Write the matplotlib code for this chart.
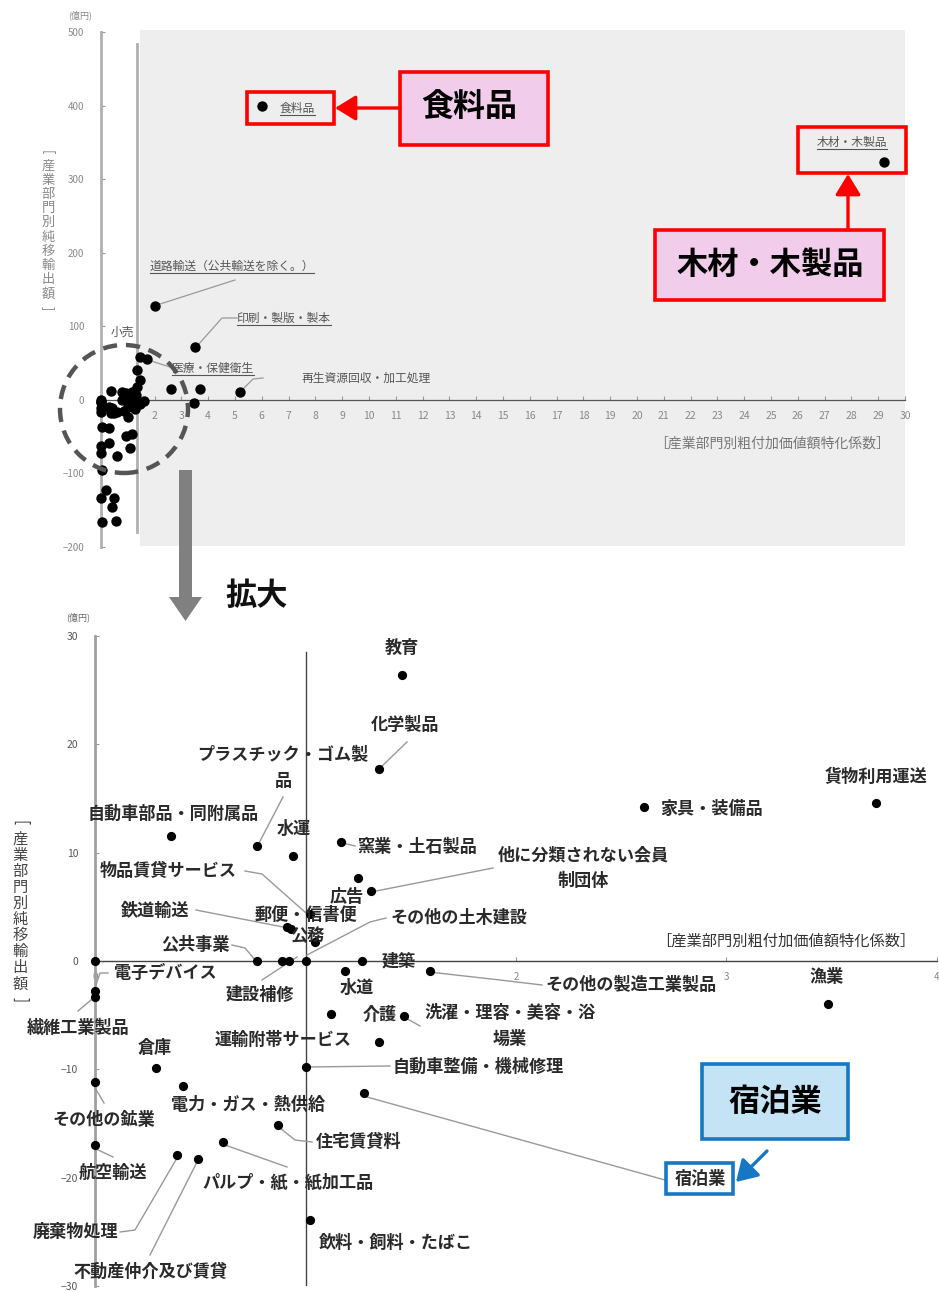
import matplotlib
matplotlib.use("Agg")
import matplotlib.pyplot as plt
from matplotlib.patches import Rectangle, Ellipse, Polygon, FancyArrowPatch
from matplotlib.lines import Line2D
import numpy as np

plt.rcParams['font.family'] = ['Noto Sans CJK JP', 'DejaVu Sans']

# ---------------- data ----------------
# zoomed (bottom) chart sectors
bottom_names = [
    "教育", "化学製品", "プラスチック・ゴム製品", "自動車部品・同附属品", "水運",
    "窯業・土石製品", "広告", "他に分類されない会員制団体", "物品賃貸サービス", "鉄道輸送",
    "郵便・信書便", "公務", "その他の土木建設", "公共事業", "建設補修",
    "", "", "建築", "水道", "その他の製造工業製品",
    "電子デバイス", "繊維工業製品", "介護", "洗濯・理容・美容・浴場業", "運輸附帯サービス",
    "自動車整備・機械修理", "倉庫", "電力・ガス・熱供給", "その他の鉱業", "宿泊業",
    "住宅賃貸料", "パルプ・紙・紙加工品", "航空輸送", "廃棄物処理", "不動産仲介及び賃貸",
    "飲料・飼料・たばこ", "家具・装備品", "貨物利用運送", "漁業",
]
bottom_x = [
    1.46, 1.35, 0.77, 0.36, 0.94,
    1.17, 1.25, 1.31, 1.02, 0.91,
    0.93, 1.045, 1.00, 0.77, 0.89,
    0.92, 0.00, 1.27, 1.19, 1.59,
    0.00, 0.00, 1.12, 1.47, 1.35,
    1.00, 0.29, 0.42, 0.00, 1.28,
    0.87, 0.61, 0.00, 0.39, 0.49,
    1.02, 2.61, 3.71, 3.48,
]
bottom_y = [
    26.4, 17.7, 10.6, 11.5, 9.7,
    11.0, 7.7, 6.5, 4.3, 3.1,
    3.0, 1.75, 0.0, 0.0, 0.0,
    0.0, 0.0, 0.0, -0.9, -0.9,
    -2.8, -3.3, -4.9, -5.1, -7.5,
    -9.8, -9.9, -11.5, -11.2, -12.2,
    -15.1, -16.7, -17.0, -17.9, -18.3,
    -23.9, 14.2, 14.6, -4.0,
]

# sectors only visible in the full-range (top) chart
top_extra_names = [
    "食料品", "木材・木製品", "道路輸送（公共輸送を除く。）", "印刷・製版・製本",
    "医療・保健衛生", "小売", "再生資源回収・加工処理", "",
    "", "", "", "", "", "", "", "", "", "", "", "", "", "", "", "",
]
top_extra_x = [
    6.0, 29.2, 2.0, 3.5,
    1.7, 1.45, 5.2, 1.35,
    0.05, 0.3, 0.95, 1.15, 0.3, 0.0, 0.0, 0.6, 1.1, 0.05, 0.2, 0.0, 0.5, 0.4, 0.05, 0.55,
]
top_extra_y = [
    400, 323, 128, 72,
    55, 58, 11, 41,
    -37, -38, -49, -46, -59, -63, -72, -76, -65, -95, -122, -133, -133, -145, -166, -165,
]

top_yticks = [-200, -100, 0, 100, 200, 300, 400, 500]
top_xticks = list(range(2, 31))
bottom_yticks = [-30, -20, -10, 0, 10, 20, 30]
bottom_xticks = [0, 1, 2, 3, 4]
bottom_xticklabels = ["0", "", "2", "3", "4"]

y_label_body = "産業部門別純移輸出額"
x_label = "［産業部門別粗付加価値額特化係数］"
unit_label = "(億円)"

# ---------------- figure ----------------
W, H = 939, 1292
fig = plt.figure(figsize=(W / 100, H / 100), dpi=100)
fig.patch.set_facecolor('white')


def F(px, py):
    return (px / W, 1 - py / H)


def D(ax, px, py):
    return tuple(ax.transData.inverted().transform((px, H - py)))


def vertical_label(cx, y_top, y_bot, size, color):
    n = len(y_label_body) + 2
    step = (y_bot - y_top) / (n - 1)
    fig.text(*F(cx, y_top), "[", fontsize=size, color=color, rotation=-90,
             ha='center', va='center', rotation_mode='anchor')
    for i, ch in enumerate(y_label_body):
        fig.text(*F(cx, y_top + step * (i + 1)), ch, fontsize=size, color=color,
                 ha='center', va='center')
    fig.text(*F(cx, y_bot), "]", fontsize=size, color=color, rotation=-90,
             ha='center', va='center', rotation_mode='anchor')


# ---------- top chart ----------
ax1 = fig.add_axes([101 / W, 1 - 547 / H, 804 / W, 515 / H])
ax1.set_xlim(0, 30)
ax1.set_ylim(-200, 500)
ax1.patch.set_alpha(0)
fig.add_artist(Rectangle(F(140, 546), 765 / W, 516 / H, transform=fig.transFigure,
                         facecolor='#eeeeee', edgecolor='none', zorder=-5))
for s in ['top', 'right']:
    ax1.spines[s].set_visible(False)
ax1.spines['left'].set_color('#b0b0b0')
ax1.spines['left'].set_linewidth(2)
ax1.spines['bottom'].set_position(('data', 0))
ax1.spines['bottom'].set_color('#555555')
ax1.spines['bottom'].set_linewidth(0.9)
ax1.set_yticks(top_yticks)
ax1.set_xticks(top_xticks)
ax1.tick_params(axis='y', direction='in', length=3, color='#999999', labelsize=7,
                labelcolor='#888888', pad=12)
ax1.tick_params(axis='x', direction='in', length=3, color='#999999', labelsize=7.5,
                labelcolor='#888888', pad=8)

top_all_x = list(bottom_x) + top_extra_x
top_all_y = list(bottom_y) + top_extra_y
ax1.scatter(top_all_x, top_all_y, s=56, color='black', zorder=5, clip_on=False, linewidths=0)

# secondary vertical line
p0 = D(ax1, 137, 44)
p1 = D(ax1, 137, 532)
ax1.plot([p0[0], p1[0]], [p0[1], p1[1]], color='#b0b0b0', lw=2, zorder=1)

top_labels = [
    ("食料品", 280, 108, 'left', True, None),
    ("木材・木製品", 852, 142, 'center', True, None),
    ("道路輸送（公共輸送を除く。）", 232, 266, 'center', True, [(157, 305), (235, 280)]),
    ("印刷・製版・製本", 237, 318, 'left', True, [(198, 345), (222, 318), (237, 318)]),
    ("医療・保健衛生", 172, 368, 'left', True, [(148, 360), (170, 367)]),
    ("再生資源回収・加工処理", 302, 378, 'left', False, [(243, 389), (253, 379), (263, 378)]),
    ("小売", 122, 332, 'center', False, None),
]
underline_texts = []
for name, px, py, ha, ul, lead in top_labels:
    x, y = D(ax1, px, py)
    t = ax1.text(x, y, name, ha=ha, va='center', fontsize=8.5, color='#555555', zorder=6)
    if ul:
        underline_texts.append(t)
    if lead:
        pts = [D(ax1, a, b) for a, b in lead]
        ax1.plot([p[0] for p in pts], [p[1] for p in pts], color='#999999', lw=0.9, zorder=3)

fig.text(*F(80, 15), unit_label, fontsize=6.5, color='#888888', ha='center', va='center')
vertical_label(48, 152, 308, 9.5, '#888888')
fig.text(*F(772, 444), x_label, fontsize=10, color='#777777', ha='center', va='center')

# ---------- bottom chart ----------
ax2 = fig.add_axes([95 / W, 1 - 1286 / H, 842 / W, 650 / H])
ax2.set_xlim(0, 4)
ax2.set_ylim(-30, 30)
ax2.patch.set_alpha(0)
for s in ['top', 'right']:
    ax2.spines[s].set_visible(False)
ax2.spines['left'].set_color('#a0a0a0')
ax2.spines['left'].set_linewidth(2)
ax2.spines['bottom'].set_position(('data', 0))
ax2.spines['bottom'].set_color('#444444')
ax2.spines['bottom'].set_linewidth(1)
ax2.set_yticks(bottom_yticks)
ax2.set_xticks(bottom_xticks)
ax2.set_xticklabels(bottom_xticklabels)
ax2.tick_params(axis='y', direction='in', length=3, color='#999999', labelsize=7.5,
                labelcolor='#555555', pad=12)
ax2.tick_params(axis='x', direction='in', length=3, color='#999999', labelsize=7,
                labelcolor='#888888', pad=8)
ax2.axvline(1, ymin=0, ymax=(28.5 + 30) / 60, color='#444444', lw=1, zorder=2)
ax2.scatter(bottom_x, bottom_y, s=44, color='black', zorder=5, clip_on=False, linewidths=0)

bottom_labels = [
    ("教育", 402, 648, 'center', None),
    ("化学製品", 405, 725, 'center', [(380, 768), (407, 742)]),
    ("プラスチック・ゴム製\n品", 283, 768, 'center', [(258, 845), (283, 797)]),
    ("自動車部品・同附属品", 173, 814, 'center', None),
    ("水運", 294, 829, 'center', None),
    ("窯業・土石製品", 357, 847, 'left', [(343, 843), (355, 846)]),
    ("他に分類されない会員\n制団体", 583, 868, 'center', [(371, 892), (493, 868)]),
    ("広告", 347, 897, 'center', None),
    ("郵便・信書便", 306, 915, 'center', None),
    ("物品賃貸サービス", 168, 871, 'center', [(245, 871), (262, 874), (306, 913)]),
    ("鉄道輸送", 155, 911, 'center', [(196, 910), (283, 927)]),
    ("公務", 307, 936, 'center', None),
    ("その他の土木建設", 390, 918, 'left', [(307, 955), (370, 922), (386, 918)]),
    ("公共事業", 195, 945, 'center', [(232, 945), (245, 948), (256, 961)]),
    ("電子デバイス", 165, 973, 'center', [(108, 973), (100, 973), (96, 985)]),
    ("建設補修", 260, 995, 'center', [(262, 980), (297, 957)]),
    ("建築", 399, 962, 'center', None),
    ("水道", 357, 988, 'center', None),
    ("その他の製造工業製品", 631, 985, 'center', [(429, 972), (500, 980), (542, 985)]),
    ("繊維工業製品", 78, 1028, 'center', [(91, 1000), (78, 1011)]),
    ("介護", 380, 1015, 'center', None),
    ("洗濯・理容・美容・浴\n場業", 510, 1026, 'center', [(404, 1017), (420, 1026)]),
    ("倉庫", 155, 1048, 'center', None),
    ("運輸附帯サービス", 283, 1040, 'center', None),
    ("自動車整備・機械修理", 478, 1067, 'center', [(306, 1067), (390, 1066)]),
    ("電力・ガス・熱供給", 248, 1105, 'center', None),
    ("その他の鉱業", 104, 1120, 'center', [(94, 1086), (104, 1103)]),
    ("住宅賃貸料", 359, 1142, 'center', [(280, 1128), (295, 1140), (312, 1142)]),
    ("航空輸送", 113, 1173, 'center', [(94, 1148), (113, 1157)]),
    ("パルプ・紙・紙加工品", 288, 1183, 'center', [(225, 1145), (287, 1167)]),
    ("廃棄物処理", 76, 1232, 'center', [(120, 1232), (135, 1230), (177, 1158)]),
    ("不動産仲介及び賃貸", 150, 1272, 'center', [(150, 1255), (197, 1162)]),
    ("飲料・飼料・たばこ", 396, 1243, 'center', None),
    ("宿泊業", 700, 1179, 'center', [(367, 1097), (665, 1180)]),
    ("貨物利用運送", 876, 777, 'center', None),
    ("家具・装備品", 660, 809, 'left', None),
    ("漁業", 827, 977, 'center', None),
]
for name, px, py, ha, lead in bottom_labels:
    x, y = D(ax2, px, py)
    ax2.text(x, y, name, ha=ha, va='center', fontsize=12.3, fontweight='bold',
             color='#2a2a2a', zorder=6, linespacing=1.6, clip_on=False)
    if lead:
        pts = [D(ax2, a, b) for a, b in lead]
        ax2.plot([p[0] for p in pts], [p[1] for p in pts], color='#999999', lw=1.0,
                 zorder=3, clip_on=False)

fig.text(*F(78, 617), unit_label, fontsize=6.5, color='#666666', ha='center', va='center')
vertical_label(20, 823, 1000, 11, '#444444')
fig.text(*F(786, 941), x_label, fontsize=11, color='#333333', ha='center', va='center')

# ---------- decorations ----------
# dashed circle around cluster
fig.add_artist(Ellipse(F(124, 409), 128 / W, 128 / H, transform=fig.transFigure,
                       fill=False, edgecolor='#555555', lw=3.2, ls=(0, (3.2, 2.0)), zorder=10))
# big gray down arrow
arrow_px = [(179, 470), (192, 470), (192, 597), (202, 597), (185.5, 621), (169, 597), (179, 597)]
fig.add_artist(Polygon([F(a, b) for a, b in arrow_px], closed=True, transform=fig.transFigure,
                       facecolor='#808080', edgecolor='none', zorder=10))
fig.text(*F(225, 596), "拡大", fontsize=22.5, fontweight='bold', color='#111111',
         ha='left', va='center')


def box(x0, y0, x1, y1, ec, fc, lw=2.6):
    fig.add_artist(Rectangle(F(x0, y1), (x1 - x0) / W, (y1 - y0) / H, transform=fig.transFigure,
                             facecolor=fc, edgecolor=ec, lw=lw, zorder=11))


def arrow(a, b, color):
    fig.add_artist(FancyArrowPatch(F(*a), F(*b), transform=fig.transFigure,
                                   arrowstyle='-|>,head_length=0.9,head_width=0.55',
                                   mutation_scale=14, color=color, lw=2.4,
                                   shrinkA=0, shrinkB=0, zorder=12))


red = '#ff0000'
pink = '#f1cceb'
box(247, 92, 334, 124, red, 'none')
box(400, 72, 548, 145, red, pink)
fig.text(*F(469, 108), "食料品", fontsize=23, fontweight='bold', color='black',
         ha='center', va='center', zorder=13)
arrow((400, 108), (335, 108), red)

box(798, 127, 906, 173, red, 'none')
box(655, 230, 884, 300, red, pink)
fig.text(*F(770, 265), "木材・木製品", fontsize=22.5, fontweight='bold', color='black',
         ha='center', va='center', zorder=13)
arrow((848, 230), (848, 174), red)

blue = '#1677c4'
box(702, 1064, 848, 1139, blue, '#c4e4f6')
fig.text(*F(775, 1102), "宿泊業", fontsize=22.5, fontweight='bold', color='black',
         ha='center', va='center', zorder=13)
box(666, 1163, 733, 1194, blue, 'none')
arrow((767, 1151), (736, 1182), blue)

# underline top labels
fig.canvas.draw()
r = fig.canvas.get_renderer()
for t in underline_texts:
    bb = t.get_window_extent(renderer=r)
    yy = bb.y0 - 0.5
    fig.add_artist(Line2D([bb.x0 / W, bb.x1 / W], [yy / H, yy / H], transform=fig.transFigure,
                          color='#555555', lw=0.8, zorder=7))

fig.savefig("out.png", dpi=100)
